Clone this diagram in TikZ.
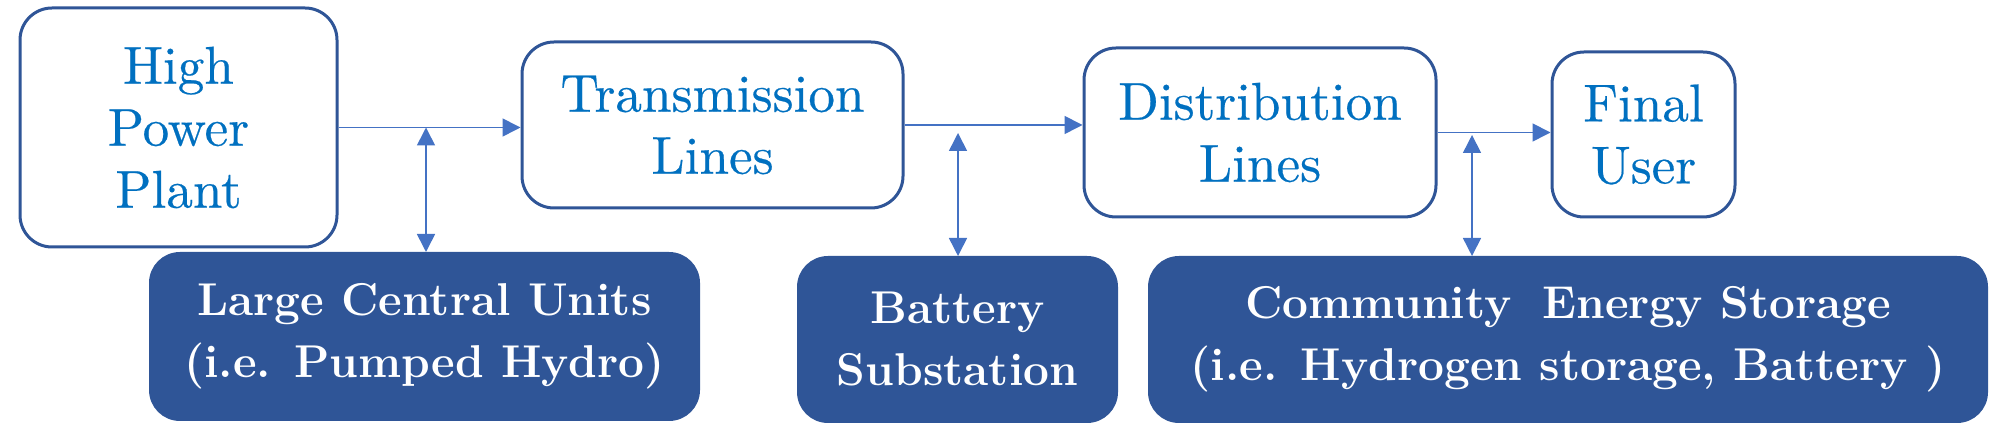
\documentclass[tikz,border=0pt]{standalone}
\usepackage{fontspec}
\newfontfamily\lightface[FakeBold=0.4]{lmroman10-regular.otf}
\usetikzlibrary{arrows.meta,calc}
\definecolor{boxblue}{HTML}{2F5597}
\definecolor{txtblue}{HTML}{0070C0}
\definecolor{arrblue}{HTML}{4472C4}
\tikzset{
  lightbox/.style={draw=boxblue, line width=1.5pt, fill=white, rounded corners=16pt,
    text=txtblue, align=center, font=\lightface\fontsize{26.6}{31}\selectfont, inner sep=0pt},
  darkbox/.style={draw=boxblue, line width=1pt, fill=boxblue, rounded corners=15pt,
    text=white, align=center, font=\rmfamily\fontsize{23}{31}\selectfont\bfseries, inner sep=0pt},
  flow/.style={draw=arrblue, line width=0.8pt, -{Triangle[width=9pt,length=9pt]}},
  link/.style={draw=arrblue, line width=0.8pt,
    {Triangle[width=9pt,length=9pt]}-{Triangle[width=9pt,length=9pt]}}
}
\begin{document}
\begin{tikzpicture}[x=0.5pt,y=-0.5pt]
\useasboundingbox (0,0) rectangle (2000,431);
% top row
\node[lightbox, minimum width=158.5pt, minimum height=119.5pt] (hpp) at (178.5,127.5) {High\\Power\\Plant};
\node[lightbox, minimum width=190.5pt, minimum height=83pt] (tl) at (712.5,125) {Transmission\\Lines};
\node[lightbox, minimum width=176pt, minimum height=84.5pt] (dl) at (1260,132.5) {Distribution\\Lines};
\node[lightbox, minimum width=91.5pt, minimum height=82.5pt] (fu) at (1643.5,134.5) {Final\\User};
% bottom row
\node[darkbox, minimum width=274.5pt, minimum height=83.5pt] (lcu) at (424.5,336.5) {Large Central Units\\(i.e. Pumped Hydro)};
\node[darkbox, minimum width=159.5pt, minimum height=82.5pt] (bs) at (957.5,339.5) {Battery\\Substation};
\node[darkbox, minimum width=419pt, minimum height=82.5pt] (ces) at (1568,339.5) {Community\hspace{0.3em} Energy Storage\\(i.e. Hydrogen storage, Battery )};
% horizontal flow
\draw[flow] (hpp.east) -- (hpp.east -| tl.west);
\draw[flow] (tl.east) -- (tl.east -| dl.west);
\draw[flow] (dl.east) -- (dl.east -| fu.west);
% junctions
\coordinate (j1) at (426,127.5);
\coordinate (j2) at (958,133);
\coordinate (j3) at (1472,135);
\draw[link] (j1) -- (j1 |- lcu.north);
\draw[link] (j2) -- (j2 |- bs.north);
\draw[link] (j3) -- (j3 |- ces.north);
\end{tikzpicture}
\end{document}
